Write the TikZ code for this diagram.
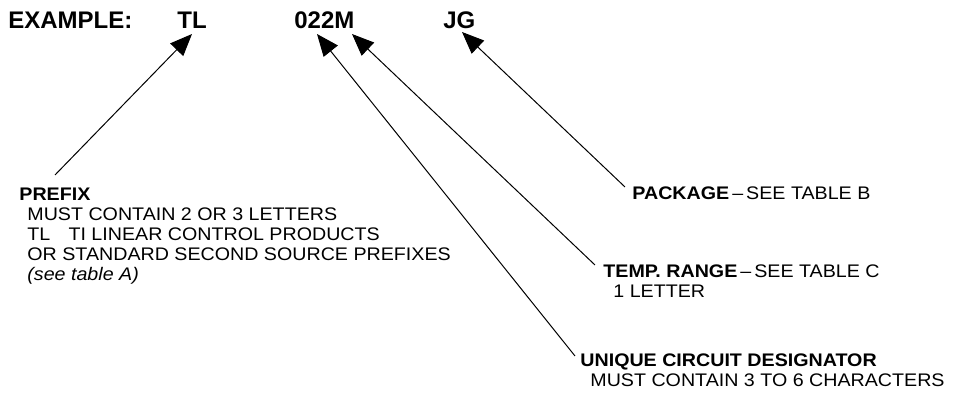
\documentclass[tikz,border=0pt]{standalone}
\usepackage{fontspec}
\setmainfont[FakeStretch=1.08]{Liberation Sans}
\newfontfamily\headfont{Liberation Sans}
\usetikzlibrary{arrows.meta,positioning}

\begin{document}
\begin{tikzpicture}[
    x=0.5pt, y=-0.5pt,
    head/.style={font=\headfont\fontsize{12}{14}\selectfont\bfseries, inner sep=0pt, anchor=base west},
    note/.style={font=\fontsize{9.1}{10}\selectfont, inner sep=0pt, anchor=north west, align=left},
    pointer/.style={-{Triangle[length=11pt, width=9pt]}, line width=0.5pt}
]
\useasboundingbox (0,0) rectangle (954,394);

% part number (top)
\node[head] (ex) at (8,29) {EXAMPLE:};
\node[head] (tl) at (177,29) {TL};
\node[head] (num) at (294,29) {022M};
\node[head] (jg) at (443,29) {JG};

% arrow tips under the letters
\coordinate (tl-tip) at (192,34);
\coordinate (num-tip-a) at (317,34);
\coordinate (num-tip-b) at (352,34);
\coordinate (jg-tip) at (462,32);

% field descriptions
\node[note] (prefix) at (19,188) {\textbf{PREFIX}\\
    \hspace*{4pt}MUST CONTAIN 2 OR 3 LETTERS\\
    \hspace*{4pt}TL\quad TI LINEAR CONTROL PRODUCTS\\
    \hspace*{4pt}OR STANDARD SECOND SOURCE PREFIXES\\
    \hspace*{4pt}\textit{(see table A)}};
\node[note] (package) at (632,186) {\textbf{PACKAGE}\,--\,SEE TABLE B};
\node[note] (temp) at (603,264) {\textbf{TEMP. RANGE}\,--\,SEE TABLE C\\
    \hspace*{5pt}1 LETTER};
\node[note] (unique) at (580,353) {\textbf{UNIQUE CIRCUIT DESIGNATOR}\\
    \hspace*{5pt}MUST CONTAIN 3 TO 6 CHARACTERS};

% pointers
\draw[pointer] ([shift={(36,-13)}]prefix.north west) -- (tl-tip);
\draw[pointer] ([shift={(-5,3)}]unique.north west) -- (num-tip-a);
\draw[pointer] ([shift={(-8,1)}]temp.north west) -- (num-tip-b);
\draw[pointer] ([shift={(-7,1)}]package.north west) -- (jg-tip);

\end{tikzpicture}
\end{document}
